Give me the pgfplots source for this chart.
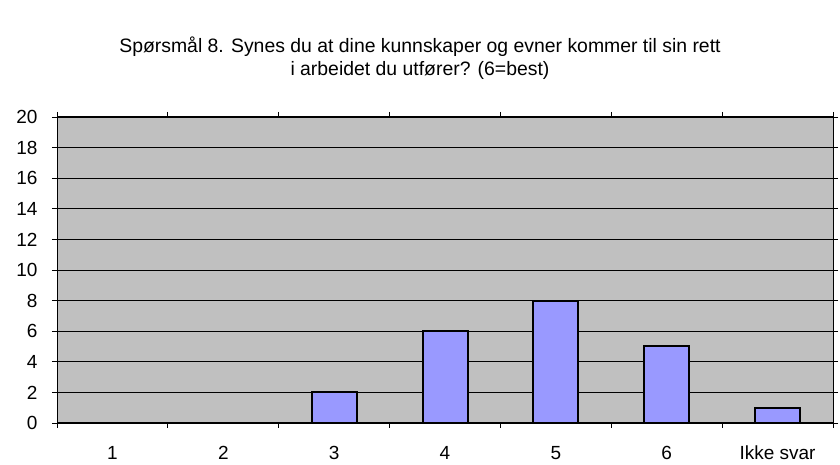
\documentclass[border=0pt]{standalone}
\usepackage{pgfplots}
\pgfplotsset{compat=1.18}
\usepackage{fontspec}
\setmainfont{Liberation Sans}
\definecolor{plotbg}{HTML}{C0C0C0}
\definecolor{barfill}{HTML}{9999FF}
\begin{document}
\begin{tikzpicture}[x=1pt,y=1pt]
\path[use as bounding box] (0,0) rectangle (840,465);
\node[align=center,font=\fontsize{19.4}{23}\selectfont] at (420,406.5) {Spørsmål 8. Synes du at dine kunnskaper og evner kommer til sin rett\\i arbeidet du utfører? (6=best)};
\begin{axis}[
  at={(57pt,42pt)}, anchor=south west,
  scale only axis, width=776pt, height=306pt,
  xmin=-0.5, xmax=6.5, ymin=0, ymax=20,
  ytick={0,2,...,20},
  xtick={0,...,6},
  xticklabels={1,2,3,4,5,6,Ikke svar},
  minor xtick={-0.5,0.5,...,6.5},
  major x tick style={draw=none},
  tick align=outside,
  major tick length=5pt, minor tick length=5pt,
  tick style={black, line width=0.8pt},
  ymajorgrids, grid style={black, line width=0.8pt},
  axis background/.style={fill=plotbg},
  axis line style={line width=1pt, black},
  ticklabel style={font=\fontsize{19}{22}\selectfont},
  /pgf/number format/assume math mode=true,
  xticklabel style={yshift=-14pt, text height=14pt, text depth=0pt},
  yticklabel style={xshift=-11pt},
  ybar, bar width=45pt,
]
\addplot[fill=barfill, draw=black, line width=2pt] coordinates {(0,0) (1,0) (2,2) (3,6) (4,8) (5,5) (6,1)};
\end{axis}
\end{tikzpicture}
\end{document}
